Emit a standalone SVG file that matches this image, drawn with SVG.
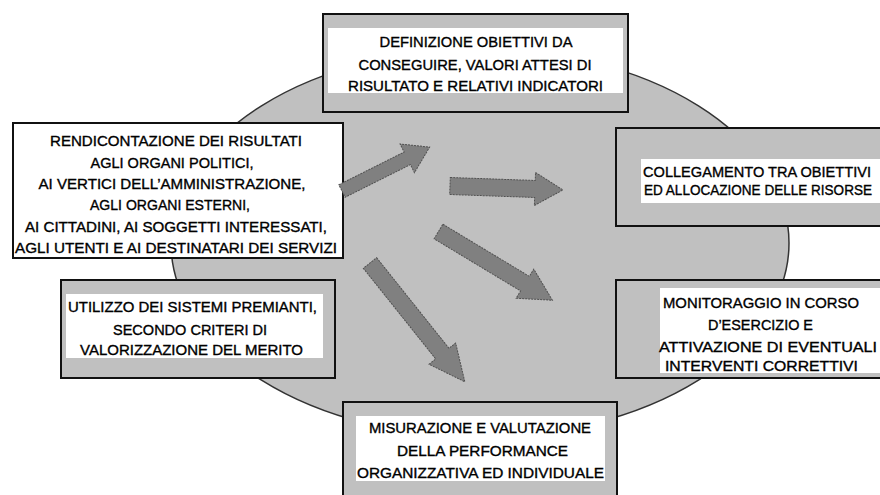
<svg xmlns="http://www.w3.org/2000/svg" width="880" height="495" viewBox="0 0 880 495">
<style>
.box{stroke:#111;stroke-width:2}
.g{fill:#c0c0c0}
.w{fill:#fff}
.band{fill:#fff;stroke:none}
text{font-family:"Liberation Sans",Arial,sans-serif;font-size:14.5px;fill:#000;stroke:#000;stroke-width:0.35;text-anchor:middle}
.st{text-anchor:start}
.arr{fill:#808080;stroke:#505050;stroke-width:1;stroke-dasharray:2 1}
</style>
<rect width="880" height="495" fill="#fff"/>
<ellipse id="cycle" cx="480" cy="243" rx="309" ry="194" fill="#c0c0c0" stroke="#333" stroke-width="1.5"/>

<g id="top">
<rect class="box g" x="323" y="14" width="305" height="98"/>
<rect class="band" x="328" y="28" width="295" height="65"/>
<text x="476" y="47" textLength="193" lengthAdjust="spacingAndGlyphs">DEFINIZIONE OBIETTIVI DA</text>
<text x="475" y="69.5" textLength="233" lengthAdjust="spacingAndGlyphs">CONSEGUIRE, VALORI ATTESI DI</text>
<text x="475.5" y="90.5" textLength="255" lengthAdjust="spacingAndGlyphs">RISULTATO E RELATIVI INDICATORI</text>
</g>

<g id="rendicontazione">
<rect class="box w" x="13" y="123" width="330" height="135"/>
<text x="176" y="145.5" textLength="252" lengthAdjust="spacingAndGlyphs">RENDICONTAZIONE DEI RISULTATI</text>
<text x="172" y="168" textLength="163" lengthAdjust="spacingAndGlyphs">AGLI ORGANI POLITICI,</text>
<text x="172" y="189" textLength="267" lengthAdjust="spacingAndGlyphs">AI VERTICI DELL’AMMINISTRAZIONE,</text>
<text x="170" y="210" textLength="160" lengthAdjust="spacingAndGlyphs">AGLI ORGANI ESTERNI,</text>
<text x="176" y="232" textLength="302" lengthAdjust="spacingAndGlyphs">AI CITTADINI, AI SOGGETTI INTERESSATI,</text>
<text x="176" y="253" textLength="322" lengthAdjust="spacingAndGlyphs">AGLI UTENTI E AI DESTINATARI DEI SERVIZI</text>
</g>

<g id="collegamento">
<rect class="box g" x="616" y="128" width="305" height="98"/>
<rect class="band" x="641" y="159" width="260" height="44"/>
<text class="st" x="643" y="177" textLength="228" lengthAdjust="spacingAndGlyphs">COLLEGAMENTO TRA OBIETTIVI</text>
<text class="st" x="644" y="195" textLength="228" lengthAdjust="spacingAndGlyphs">ED ALLOCAZIONE DELLE RISORSE</text>
</g>

<g id="utilizzo">
<rect class="box g" x="61" y="280" width="274" height="98"/>
<rect class="band" x="66" y="294" width="257" height="64"/>
<text x="192.5" y="312" textLength="249" lengthAdjust="spacingAndGlyphs">UTILIZZO DEI SISTEMI PREMIANTI,</text>
<text x="190" y="335" textLength="154" lengthAdjust="spacingAndGlyphs">SECONDO CRITERI DI</text>
<text x="191.5" y="355" textLength="223" lengthAdjust="spacingAndGlyphs">VALORIZZAZIONE DEL MERITO</text>
</g>

<g id="monitoraggio">
<rect class="box g" x="616" y="280" width="290" height="98"/>
<rect class="band" x="660" y="288" width="220" height="85"/>
<text x="761" y="308" textLength="196" lengthAdjust="spacingAndGlyphs">MONITORAGGIO IN CORSO</text>
<text x="760.5" y="330" textLength="105" lengthAdjust="spacingAndGlyphs">D’ESERCIZIO E</text>
<text x="768" y="352" textLength="218" lengthAdjust="spacingAndGlyphs">ATTIVAZIONE DI EVENTUALI</text>
<text x="761.5" y="371" textLength="193" lengthAdjust="spacingAndGlyphs">INTERVENTI CORRETTIVI</text>
</g>

<g id="misurazione">
<rect class="box g" x="343" y="402" width="274" height="110"/>
<rect class="band" x="356" y="416" width="249" height="65"/>
<text x="480" y="433" textLength="222" lengthAdjust="spacingAndGlyphs">MISURAZIONE E VALUTAZIONE</text>
<text x="482.5" y="456" textLength="171" lengthAdjust="spacingAndGlyphs">DELLA PERFORMANCE</text>
<text x="480.5" y="478" textLength="247" lengthAdjust="spacingAndGlyphs">ORGANIZZATIVA ED INDIVIDUALE</text>
</g>

<g id="connectors">
<polygon class="arr" transform="translate(342,191) rotate(-26.6)" points="0,-7 73,-7 73,-16 98,0 73,16 73,7 0,7"/>
<polygon class="arr" transform="translate(450,186) rotate(2)" points="0,-8.5 85,-8.5 85,-16.5 113,0 85,16.5 85,8.5 0,8.5"/>
<polygon class="arr" transform="translate(438.5,231.5) rotate(31.1)" points="0,-8.5 101,-8.5 101,-17 133,0 101,17 101,8.5 0,8.5"/>
<polygon class="arr" transform="translate(370,263) rotate(51.4)" points="0,-8.5 116,-8.5 116,-17 152,0 116,17 116,8.5 0,8.5"/>
</g>
</svg>
